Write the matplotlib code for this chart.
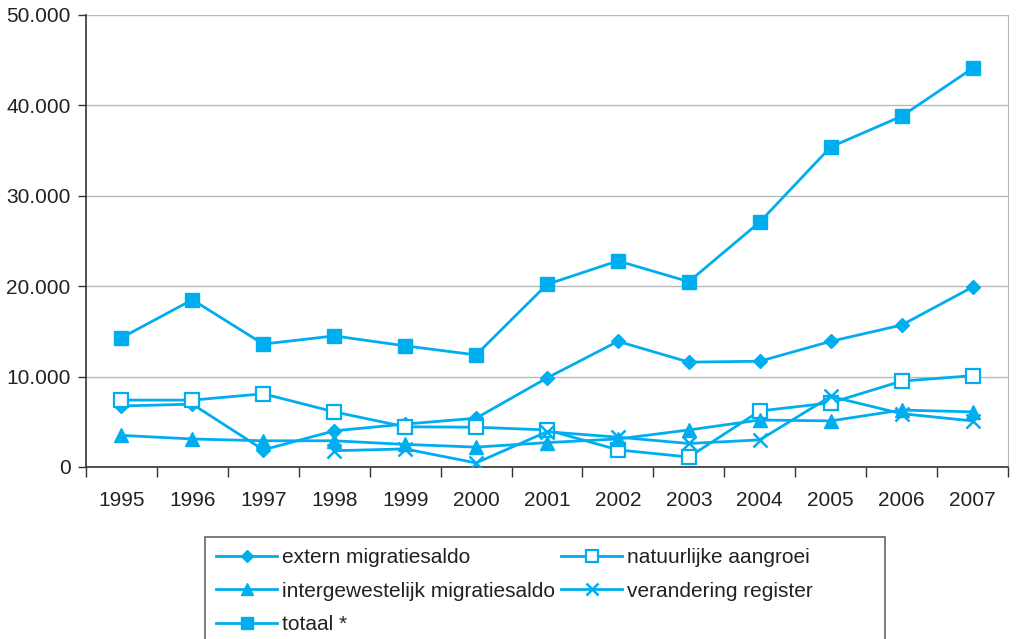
import matplotlib
matplotlib.use("Agg")
import matplotlib.pyplot as plt
from matplotlib.ticker import FuncFormatter, FixedLocator, NullFormatter
from matplotlib.patches import Rectangle
import numpy as np

years = ["1995", "1996", "1997", "1998", "1999", "2000", "2001",
         "2002", "2003", "2004", "2005", "2006", "2007"]
extern = [6750, 6950, 1900, 4000, 4750, 5400, 9850, 13900, 11600, 11700, 13900, 15700, 19900]
natuurlijk = [7400, 7400, 8100, 6100, 4450, 4400, 4100, 1900, 1100, 6200, 7100, 9500, 10100]
intergew = [3500, 3100, 2900, 2900, 2500, 2200, 2700, 3100, 4100, 5200, 5100, 6300, 6100]
register_years = years[3:]
register = [1800, 2000, 450, 3900, 3300, 2600, 3000, 7800, 5900, 5100]
totaal = [14300, 18500, 13600, 14500, 13400, 12400, 20200, 22800, 20500, 27100, 35400, 38800, 44100]

plt.rcParams['font.family'] = ['Liberation Sans', 'DejaVu Sans']
col = "#00AEEF"
fs = 15

fig = plt.figure(figsize=(10.19, 6.39), dpi=100)
ax = fig.add_axes([86/1019, 1-467/639, (1008-86)/1019, (467-15)/639])

x = np.arange(len(years))
xr = np.arange(3, len(years))
lw = 2.0
ax.plot(x, extern, color=col, lw=lw, marker='D', ms=7.5, mfc=col, mec=col, label="extern migratiesaldo", zorder=3)
ax.plot(x, natuurlijk, color=col, lw=lw, marker='s', ms=10, mfc='white', mec=col, mew=1.6, label="natuurlijke aangroei", zorder=3)
ax.plot(x, intergew, color=col, lw=lw, marker='^', ms=10, mfc=col, mec=col, label="intergewestelijk migratiesaldo", zorder=3)
ax.plot(xr, register, color=col, lw=lw, marker='x', ms=10, mew=1.8, mec=col, label="verandering register", zorder=3)
ax.plot(x, totaal, color=col, lw=lw, marker='s', ms=10, mfc=col, mec=col, label="totaal *", zorder=3)

ax.set_xlim(-0.5, len(years) - 0.5)
ax.set_ylim(0, 50000)
ax.set_yticks(np.arange(0, 50001, 10000))
ax.yaxis.set_major_formatter(FuncFormatter(lambda v, p: "0" if v == 0 else f"{int(v):,}".replace(",", ".")))
ax.yaxis.grid(True, color="#b8b8b8", lw=1)
ax.set_axisbelow(True)

ax.set_xticks(x)
ax.set_xticklabels(years)
ax.tick_params(axis='x', which='major', length=0, pad=17, labelsize=fs, colors='#222222')
ax.xaxis.set_minor_locator(FixedLocator(np.arange(-0.5, len(years), 1.0)))
ax.xaxis.set_minor_formatter(NullFormatter())
ax.tick_params(axis='x', which='minor', length=7, width=1, color='#333333', direction='out')
ax.tick_params(axis='y', length=6, width=1, color='#333333', labelsize=fs, colors='#222222', pad=5)

ax.spines['top'].set_visible(False)
ax.spines['right'].set_color('#b8b8b8')
ax.spines['left'].set_color('#333333')
ax.spines['bottom'].set_color('#333333')
ax.spines['left'].set_linewidth(1.2)
ax.spines['bottom'].set_linewidth(1.2)

# legend frame
fig.patches.append(Rectangle((205/1019, -0.02), 680/1019, (1-537/639) + 0.02,
                             transform=fig.transFigure, fill=False,
                             edgecolor='#666666', lw=1.2))

handles, labels = ax.get_legend_handles_labels()
order = [0, 2, 4, 1, 3]
leg = fig.legend([handles[i] for i in order], [labels[i] for i in order],
                 loc='upper left', bbox_to_anchor=(205/1019, 1-537/639),
                 ncol=2, fontsize=fs, frameon=False,
                 handlelength=2.9, handletextpad=0.25,
                 columnspacing=0.3, labelspacing=0.68, borderpad=0.55,
                 markerscale=0.85, borderaxespad=0)
for t in leg.get_texts():
    t.set_color('#222222')

fig.savefig("out.png", dpi=100)
